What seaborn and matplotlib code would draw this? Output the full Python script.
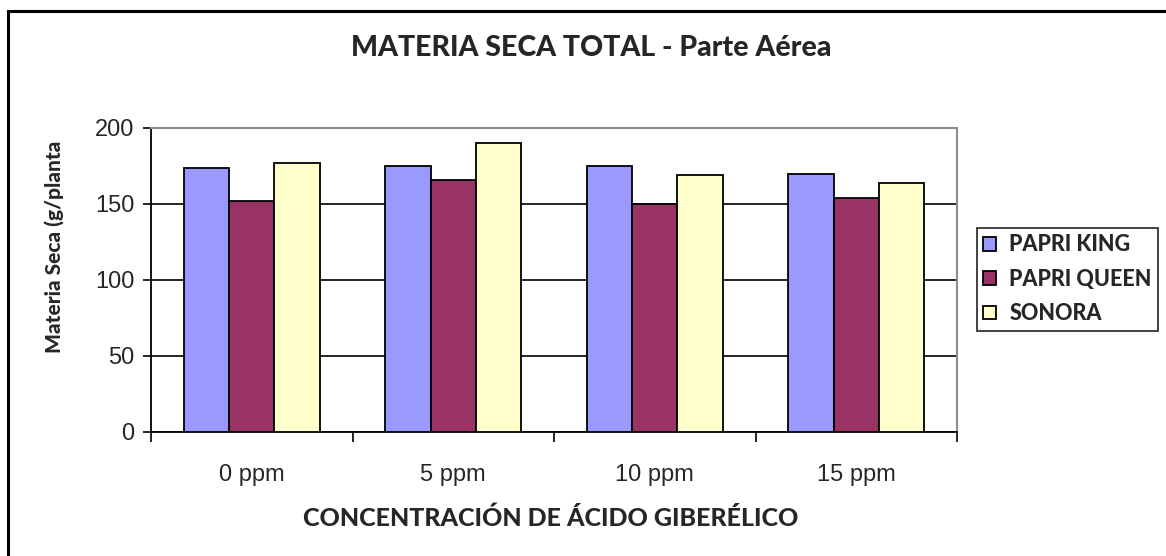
import pandas as pd
import matplotlib
matplotlib.use("Agg")
import matplotlib.pyplot as plt
import seaborn as sns
from matplotlib.patches import Rectangle
from matplotlib.ticker import FixedLocator

# data
concentrations = ["0 ppm", "5 ppm", "10 ppm", "15 ppm"]
varieties = ["PAPRI KING", "PAPRI QUEEN", "SONORA"]
papri_king = [174, 175, 175, 170]
papri_queen = [152, 166, 150, 154]
sonora = [177, 190, 169, 164]
colors = ["#9999FF", "#993366", "#FFFFCC"]

rows = []
for variety, values in zip(varieties, [papri_king, papri_queen, sonora]):
    for conc, val in zip(concentrations, values):
        rows.append({"Concentracion": conc, "Variedad": variety, "Materia": val})
df = pd.DataFrame(rows)

sns.set_style("white")
plt.rcParams["font.family"] = ["Liberation Sans", "DejaVu Sans"]
bold_font = ["Lato", "DejaVu Sans"]

fig = plt.figure(figsize=(11.66, 5.56), dpi=100)
ax = fig.add_axes([151 / 1166, 1 - 432 / 556, 806 / 1166, 304 / 556])

sns.barplot(data=df, x="Concentracion", y="Materia", hue="Variedad",
            order=concentrations, hue_order=varieties, palette=colors,
            width=0.675, edgecolor="black", linewidth=1.3, saturation=1,
            errorbar=None, ax=ax, zorder=3)

ax.set_ylim(0, 200)
ax.set_xlim(-0.5, 3.5)
ax.set_yticks([0, 50, 100, 150, 200])
ax.yaxis.grid(True, color="black", linewidth=1.2, zorder=0)
ax.set_axisbelow(True)

for side in ["left", "bottom"]:
    ax.spines[side].set_color("black")
    ax.spines[side].set_linewidth(1.3)
for side in ["top", "right"]:
    ax.spines[side].set_color("#8c8c8c")
    ax.spines[side].set_linewidth(1.5)

ax.tick_params(axis="y", which="major", direction="out", length=6, width=1.2,
               color="black", labelsize=17, pad=6, left=True)
ax.tick_params(axis="x", which="major", length=0, labelsize=17, pad=23)
ax.xaxis.set_minor_locator(FixedLocator([-0.5, 0.5, 1.5, 2.5, 3.5]))
ax.tick_params(axis="x", which="minor", direction="out", length=7, width=1.2,
               color="black", bottom=True)

ax.set_xlabel("CONCENTRACIÓN DE ÁCIDO GIBERÉLICO", family=bold_font,
              fontweight="black", fontsize=18, va="center")
ax.xaxis.set_label_coords(0.496, -0.283)
ax.set_ylabel("Materia Seca (g/planta", family=bold_font,
              fontweight="black", fontsize=15, va="center")
ax.yaxis.set_label_coords(-0.12, 0.609)

fig.text(591 / 1166, 1 - 48 / 556, "MATERIA SECA TOTAL - Parte Aérea",
         family=bold_font, fontweight="black", fontsize=20.5,
         ha="center", va="center")

leg = ax.legend(loc="upper left", bbox_to_anchor=(977 / 1166, 1 - 228 / 556),
                bbox_transform=fig.transFigure, frameon=True, fancybox=False,
                edgecolor="black", borderaxespad=0, handlelength=0.6,
                handleheight=0.6, handletextpad=0.6, labelspacing=0.62,
                borderpad=0.3,
                prop={"family": bold_font, "weight": "black", "size": 15.5})
leg.get_frame().set_linewidth(1.3)
leg.set_title(None)

# outer chart border
fig.add_artist(Rectangle((7.5 / 1166, -0.05), 1.2, 1 - 11.5 / 556 + 0.05,
                         transform=fig.transFigure, fill=False,
                         edgecolor="black", linewidth=2.2, clip_on=False))

fig.savefig("out.png", dpi=100)
